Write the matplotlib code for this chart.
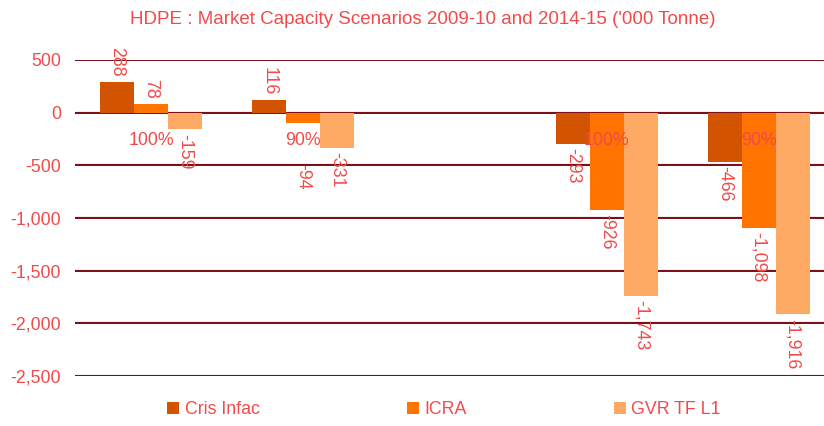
import numpy as np
import matplotlib
matplotlib.use("Agg")
import matplotlib.pyplot as plt
from matplotlib.ticker import FuncFormatter

plt.rcParams['font.family'] = ['Liberation Sans', 'DejaVu Sans']

categories = ['100%', '90%', '', '100%', '90%']
cris_infac = [288, 116, np.nan, -293, -466]
icra = [78, -94, np.nan, -926, -1098]
gvr_tf_l1 = [-159, -331, np.nan, -1743, -1916]
series_names = ['Cris Infac', 'ICRA', 'GVR TF L1']

colors = ['#D35400', '#FF7300', '#FFAA64']
txt_col = '#F24A4A'
grid_col = '#7A0A14'
fs = 12.8

# one label was moved by hand in the original (series, category) -> extra offset in points
label_shift = {(1, 1): -27}

fig = plt.figure(figsize=(8.24, 4.26), dpi=100)
ax = fig.add_axes([75/824, 1-376/426, 1-75/824, (376-60)/426])

X = np.arange(len(categories))
width = 0.224
bars = []
for i, (vals, name) in enumerate(zip([cris_infac, icra, gvr_tf_l1], series_names)):
    r = ax.bar(X + (i-1)*width, vals, width, color=colors[i], label=name, zorder=1)
    bars.append(r)
    for j, (xi, v) in enumerate(zip(X + (i-1)*width, vals)):
        if np.isnan(v):
            continue
        extra = label_shift.get((i, j), 0)
        if v >= 0:
            ax.annotate('{:,.0f}'.format(v), (xi, v), xytext=(0, 4 + extra), textcoords='offset points',
                        rotation=270, ha='center', va='bottom', color=txt_col, fontsize=fs)
        else:
            ax.annotate('{:,.0f}'.format(v), (xi, v), xytext=(0, -3 + extra), textcoords='offset points',
                        rotation=270, ha='center', va='top', color=txt_col, fontsize=fs)

# gridlines behind bars
for y in range(500, -3000, -500):
    ax.axhline(y + 9, color='#D8A8A8', lw=1.0, zorder=0.4)
    ax.axhline(y, color=grid_col, lw=1.4, zorder=0.5)

ax.set_ylim(-2500, 500)
ax.set_xlim(-0.5, 4.43)
ax.set_yticks(range(500, -3000, -500))
ax.yaxis.set_major_formatter(FuncFormatter(lambda v, p: '{:,.0f}'.format(v)))
ax.set_xticks(X)
ax.set_xticklabels(categories)
ax.spines['bottom'].set_position(('data', 0))
for s in ax.spines.values():
    s.set_visible(False)
ax.tick_params(axis='x', length=0, pad=14, labelsize=fs, labelcolor=txt_col)
ax.tick_params(axis='y', length=0, pad=10, labelsize=fs, labelcolor=txt_col)

fig.text(0.513, 1-19/426, "HDPE : Market Capacity Scenarios 2009-10 and 2014-15 ('000 Tonne)",
         ha='center', va='center', color=txt_col, fontsize=13.5,
         family=['Liberation Sans Narrow', 'Liberation Sans'])

leg = fig.legend(handles=bars, labels=series_names, ncol=3, loc='center',
                 bbox_to_anchor=(0.539, 1-410/426), frameon=False, fontsize=fs,
                 handlelength=0.67, handleheight=0.67, handletextpad=0.3, columnspacing=8.3)
for t in leg.get_texts():
    t.set_color(txt_col)

fig.savefig('out.png', dpi=100)
